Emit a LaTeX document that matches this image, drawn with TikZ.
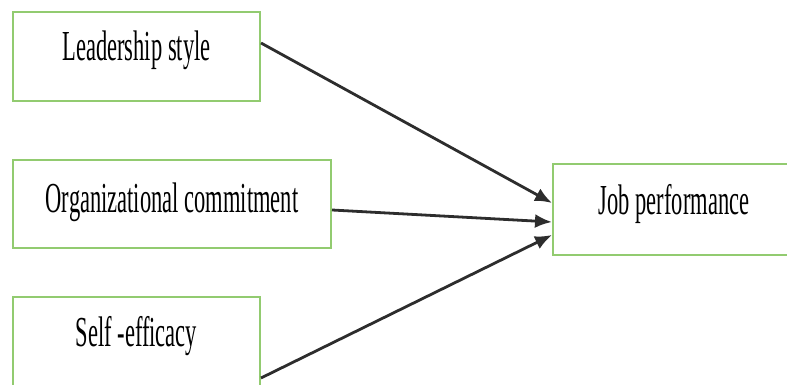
\documentclass[tikz,border=0pt]{standalone}
\usepackage{fontspec}
\setmainfont{Liberation Serif}
\usepackage{graphicx}
\usepackage{xcolor}
\usetikzlibrary{arrows.meta, positioning}

\definecolor{boxgreen}{RGB}{146,203,112}
\definecolor{arrowgray}{RGB}{45,45,45}
\newcommand{\tall}[1]{\scalebox{1}[1.9]{#1}}

\begin{document}
\begin{tikzpicture}[
    x=1pt, y=-1pt,
    box/.style={rectangle, draw=boxgreen, line width=2pt, fill=white, minimum height=89pt,
        text height=30pt, text depth=21pt, font=\fontsize{22.5}{27}\selectfont},
    arrow/.style={-{Latex[length=17pt, width=14pt]}, line width=2.8pt, draw=arrowgray}
]
\useasboundingbox (0,0) rectangle (787,385);
\clip (0,0) rectangle (787,385);

% Predictors
\node[box, minimum width=247pt] (leader) at (136.5,56.5) {\tall{Leadership style}};
\node[box, minimum width=318pt, minimum height=88pt, text depth=14pt] (commit) at (172,204) {\tall{Organizational commitment}};
\node[box, minimum width=247pt] (selfeff) at (136.5,341.5) {\tall{Self -efficacy}};

% Outcome
\node[box, minimum width=242pt, minimum height=91pt] (perf) at (674,209.5) {\tall{Job performance}};

% Arrows
\draw[arrow] ([yshift=13.5pt]leader.east) -- ([yshift=6.5pt]perf.west);
\draw[arrow] ([yshift=-6pt]commit.east) -- ([yshift=-12.5pt]perf.west);
\draw[arrow] ([yshift=-36.5pt]selfeff.east) -- ([yshift=-25.5pt]perf.west);

\end{tikzpicture}
\end{document}
